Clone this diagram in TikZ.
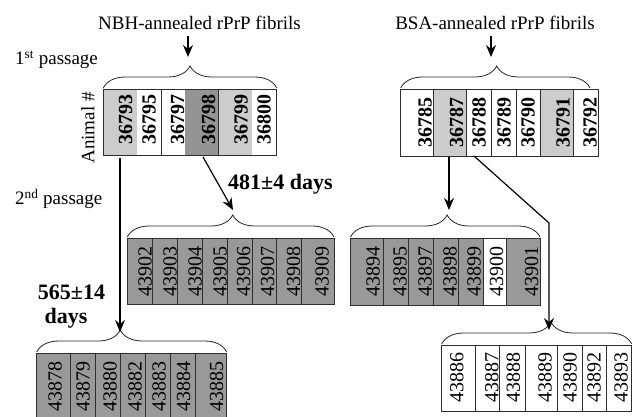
\documentclass[tikz,border=0pt]{standalone}
\usepackage{fontspec}
\setmainfont{Liberation Serif}
\usetikzlibrary{arrows.meta,decorations.pathreplacing}
\definecolor{lightg}{gray}{0.80}
\definecolor{midg}{gray}{0.60}
\definecolor{darkg}{gray}{0.58}
\definecolor{lineg}{gray}{0.18}
\tikzset{
  lbl/.style={font=\fontsize{19}{22}\selectfont, inner sep=0pt},
  bigb/.style={font=\bfseries\fontsize{22}{24}\selectfont, inner sep=0pt},
  numr/.style={rotate=90, font=\fontsize{20}{20}\selectfont, inner sep=0pt},
  numb/.style={rotate=90, font=\bfseries\fontsize{20}{20}\selectfont, inner sep=0pt},
  boxline/.style={draw=lineg, line width=0.9pt},
  arr/.style={-{Stealth[length=12pt,width=10pt,inset=4pt]}, line width=1.2pt},
  bracestyle/.style={decorate, decoration={brace, amplitude=22pt, aspect=#1}, line width=0.8pt, draw=black!85}
}
\begin{document}
\begin{tikzpicture}[x=1pt,y=-1pt]
\useasboundingbox (0,0) rectangle (638,417);
\fill[white] (0,0) rectangle (638,417);
\begin{scope}
\clip (0,0) rectangle (638,417);

% ---------- titles ----------
\node[lbl] (nbh) at (199.5,23) {NBH-annealed rPrP fibrils};
\node[lbl] (bsa) at (495,23) {BSA-annealed rPrP fibrils};
\node[lbl, anchor=west] (p1) at (15,60) {1\textsuperscript{st} passage};
\node[lbl, anchor=west] (p2) at (15,199) {2\textsuperscript{nd} passage};
\node[lbl, rotate=90] (animal) at (88,128) {Animal \#};
\node[bigb, anchor=west] (d481) at (228,184) {481±4 days};
\node[bigb] (d565a) at (71.5,292) {565±14};
\node[bigb] (d565b) at (66,318) {days};

% ---------- top-left box ----------
\foreach \l/\r/\c/\t/\tx in {103.3/136.7/lightg/36793/125.5, 136.7/161.7/white/36795/149, 161.7/185/white/36797/177.5, 185/218.3/darkg/36798/208.5, 218.3/252.3/lightg/36799/241, 252.3/276.7/white/36800/264}{
  \fill[\c] (\l,89.3) rectangle (\r,155.7);
  \node[numb] (n\t) at (\tx,120) {\t};
}
\draw[boxline] (103.3,89.3) rectangle (276.7,155.7);
\foreach \x in {161.7,218.3} \draw[boxline] (\x,89.3) -- (\x,155.7);
\draw[bracestyle=0.5] (103.3,88) -- (276.7,88);

% ---------- top-right box ----------
\foreach \l/\r/\c/\t/\tx in {400/433.3/white/36785/425, 433.3/466.7/lightg/36787/456.5, 466.7/491/white/36788/479, 491/516/white/36789/504, 516/540.7/white/36790/528, 540.7/573.3/lightg/36791/563, 573.3/598.3/white/36792/590}{
  \fill[\c] (\l,89.3) rectangle (\r,156);
  \node[numb] (n\t) at (\tx,123) {\t};
}
\draw[boxline] (400,89.3) rectangle (598.3,156);
\foreach \x in {433.3,466.7,491,516,540.7,573.3} \draw[boxline] (\x,89.3) -- (\x,156);
\draw[bracestyle=0.507] (400.7,88) -- (590,88);

% ---------- middle-left box ----------
\fill[midg] (127.3,238.3) rectangle (334,304.3);
\foreach \t/\tx in {43902/145, 43903/170, 43904/195, 43905/220, 43906/243.5, 43907/267.5, 43908/293.5, 43909/322}{
  \node[numr] (n\t) at (\tx,271.5) {\t};
}
\draw[boxline] (127.3,238.3) rectangle (334,304.3);
\foreach \x in {152.3,177.3,202.3,227.3,252.3,276.7,301.7} \draw[boxline] (\x,238.3) -- (\x,304.3);
\draw[bracestyle=0.51] (127.3,237) -- (334,237);

% ---------- middle-right box ----------
\fill[midg] (350,238.3) rectangle (540,305);
\fill[white] (483.3,238.3) rectangle (506.7,305);
\foreach \t/\tx in {43894/373, 43895/400, 43897/425, 43898/450, 43899/474, 43900/496.5, 43901/531.5}{
  \node[numr] (n\t) at (\tx,271.5) {\t};
}
\draw[boxline] (350,238.3) rectangle (540,305);
\foreach \x in {383.3,408.3,433.3,458.3,483.3,506.7} \draw[boxline] (\x,238.3) -- (\x,305);
\draw[bracestyle=0.51] (350.5,237) -- (540,237);

% ---------- bottom-left box ----------
\fill[midg] (36.7,353.3) rectangle (226.7,422);
\foreach \t/\tx in {43878/55, 43879/83, 43880/110, 43882/135, 43883/159, 43884/183.5, 43885/216.5}{
  \node[numr] (n\t) at (\tx,386.7) {\t};
}
\draw[boxline] (36.7,353.3) rectangle (226.7,422);
\foreach \x in {70,95,120,145,170,195} \draw[boxline] (\x,353.3) -- (\x,422);
\draw[bracestyle=0.44] (36.7,352) -- (226.7,352);

% ---------- bottom-right box ----------
\fill[white] (441.7,345) rectangle (631.7,411.7);
\foreach \t/\tx in {43886/456.7, 43887/491.7, 43888/513.3, 43889/545, 43890/570, 43892/594, 43893/621}{
  \node[numr] (n\t) at (\tx,377.5) {\t};
}
\draw[boxline] (441.7,345) rectangle (631.7,411.7);
\foreach \x in {475,499.3,525,557.7,582.3,606.7} \draw[boxline] (\x,345) -- (\x,411.7);
\draw[bracestyle=0.575] (441.7,344) -- (631.7,344);

% ---------- arrows ----------
\coordinate (a1s) at (188,36);  \coordinate (a1e) at (188,57);
\coordinate (a2s) at (491,36);  \coordinate (a2e) at (491,57);
\coordinate (a3s) at (120,158); \coordinate (a3e) at (120,332);
\coordinate (a4s) at (203,157); \coordinate (a4e) at (233,210);
\coordinate (a5s) at (449,157); \coordinate (a5e) at (449,210);
\coordinate (a6s) at (474,156); \coordinate (a6m) at (549,223); \coordinate (a6e) at (549,330);
\draw[arr] (a1s) -- (a1e);
\draw[arr] (a2s) -- (a2e);
\draw[arr] (a3s) -- (a3e);
\draw[arr] (a4s) -- (a4e);
\draw[arr] (a5s) -- (a5e);
\draw[arr] (a6s) -- (a6m) -- (a6e);
\end{scope}
\end{tikzpicture}
\end{document}
